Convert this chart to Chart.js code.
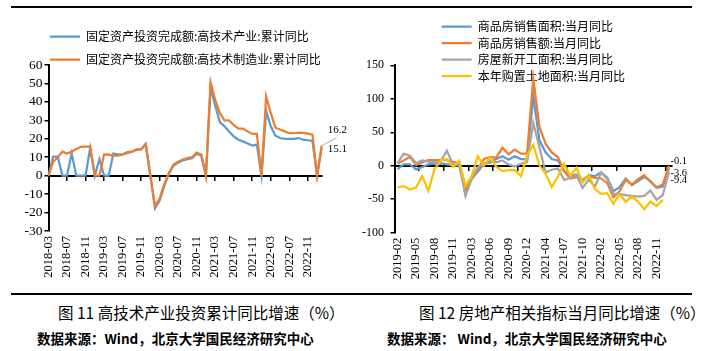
<!DOCTYPE html>
<html lang="zh">
<head>
<meta charset="UTF-8">
<title>高技术产业投资与房地产相关指标</title>
<script src="https://cdn.jsdelivr.net/npm/chart.js"></script>
<style>
  body { margin: 0; width: 708px; height: 351px; background: #fff; position: relative; overflow: hidden;
         font-family: "Noto Sans CJK SC", sans-serif; color: #000; }
  .rule { position: absolute; left: 11px; width: 681px; height: 2px; background: #000; }
  canvas { position: absolute; top: 0; }
  .cap { position: absolute; font-size: 15.5px; line-height: 16px; white-space: nowrap; }
  .src { position: absolute; font-size: 13.5px; line-height: 14px; font-weight: bold; white-space: nowrap; }
</style>
</head>
<body>
<div class="rule" style="top:6px"></div>
<canvas id="hiTechChart" width="354" height="290" style="left:0"></canvas>
<canvas id="estateChart" width="354" height="290" style="left:354px"></canvas>
<div class="rule" style="top:293px"></div>
<div class="cap" style="left:58px; top:304px">图 11 高技术产业投资累计同比增速（%）</div>
<div class="cap" style="left:419px; top:304px">图 12 房地产相关指标当月同比增速（%）</div>
<div class="src" style="left:37px; top:331px">数据来源：Wind，北京大学国民经济研究中心</div>
<div class="src" style="left:387px; top:331px">数据来源： Wind，北京大学国民经济研究中心</div>

<script>
// left chart: cumulative yoy, missing months shown as 0
const months1 = [
  '2018-03','2018-04','2018-05','2018-06','2018-07','2018-08','2018-09','2018-10','2018-11','2018-12',
  '2019-01','2019-02','2019-03','2019-04','2019-05','2019-06','2019-07','2019-08','2019-09','2019-10','2019-11','2019-12',
  '2020-01','2020-02','2020-03','2020-04','2020-05','2020-06','2020-07','2020-08','2020-09','2020-10','2020-11','2020-12',
  '2021-01','2021-02','2021-03','2021-04','2021-05','2021-06','2021-07','2021-08','2021-09','2021-10','2021-11','2021-12',
  '2022-01','2022-02','2022-03','2022-04','2022-05','2022-06','2022-07','2022-08','2022-09','2022-10','2022-11','2022-12',
  '2023-01','2023-02'
];
const hiTechIndustry = [
  0, 10.3, 10.3, 0, 0, 12, 0, 0, 0, 15,
  0, 9, 0, 0, 12, 11.5, 11.5, 12.8, 13, 14, 14.2, 17,
  0, -17.7, -13.5, -5.5, 1, 5.5, 7, 8.3, 9, 9.5, 11.8, 11,
  0, 47.5, 38, 29, 26.8, 24, 21.3, 19.5, 18.6, 17.4, 16.3, 16.8,
  0, 35, 26.8, 21.7, 20.4, 20, 20, 20, 20.4, 19.5, 19.2, 18.9,
  0, 15.1
];
const hiTechMfg = [
  0, 7.5, 10, 13, 12, 13, 14.5, 15.6, 15.7, 15.7,
  0, 0, 11.5, 11.4, 10.8, 10.8, 11.5, 12.2, 13, 14.2, 14.4, 17.3,
  0, -16.5, -12.5, -4.5, 1.5, 6, 7.5, 8.8, 9.5, 10, 12.5, 11.5,
  0, 50.6, 41.2, 34, 30, 30, 27.5, 25.5, 25.5, 24, 22.6, 22.6,
  0, 43, 34, 26, 25, 24, 23, 23, 23.3, 23.2, 22.8, 22.2,
  0, 16.2
];

// right chart: monthly yoy (no January data)
const months2 = [
  '2019-02','2019-03','2019-04','2019-05','2019-06','2019-07','2019-08','2019-09','2019-10','2019-11','2019-12',
  '2020-02','2020-03','2020-04','2020-05','2020-06','2020-07','2020-08','2020-09','2020-10','2020-11','2020-12',
  '2021-02','2021-03','2021-04','2021-05','2021-06','2021-07','2021-08','2021-09','2021-10','2021-11','2021-12',
  '2022-02','2022-03','2022-04','2022-05','2022-06','2022-07','2022-08','2022-09','2022-10','2022-11','2022-12',
  '2023-02'
];
const salesArea = [
  -5, 2, 2, -5.5, -2, 2, 3, 3.5, 2, 1, 0,
  -40, -20, -9, 3, 5, 10, 14, 9, 14, 10, 10,
  104, 38, 20, 10, 8, -8, -15.5, -13, -21.5, -14, -15.5,
  -10, -18, -38, -32, -19, -29, -23, -16.5, -23, -33, -31,
  -3.6
];
const salesValue = [
  3, 8, 13, 1, 5, 8.5, 8.5, 8.5, 8.5, 6, 3.5,
  -36, -19, -6, 10, 13, 12, 27, 17, 24, 18, 18,
  130, 58, 33, 20, 13, -8, -19, -17, -22, -16, -18,
  -19, -26, -47, -38, -21, -28, -20, -14, -24, -32, -28,
  -0.1
];
const newStarts = [
  4, 18, 15, 4, 8, 6, 5, 7, 22.5, 1, 6,
  -45, -20, -2, 3, 8, 5, 8, 2, -1, 3, 5,
  64, 28, -10, -6, -4, -21, -18, -14, -33, -21, -31,
  -10, -20, -42, -42, -44, -45, -46, -45, -37, -51, -44,
  -9.4
];
const landPurchase = [
  -32.5, -30.5, -35.5, -32.5, -15.5, -37.5, -5, 8, 10, -2, 7.5,
  -30, -16, 14, 0, 12.5, -1.5, -8, -6.5, -6.5, -15.5, 15,
  31, 1, -12, -32, -16, 3, -15, -3, -25, -14, -35,
  -42, -41, -57, -42.5, -53.5, -46, -53.5, -65, -53.5, -60, -51,
  null
];

const BLUE = '#5B9BD5', ORANGE = '#ED7D31', GRAY = '#A5A5A5', YELLOW = '#FFC000';
const serif = 'Liberation Serif';

// legend sits over the top of the plot, so it is moved after layout
const placeLegend = {
  id: 'placeLegend',
  afterLayout(chart, args, opts) {
    const lg = chart.legend;
    lg.left = opts.left;
    lg.top = opts.top;
    lg.bottom = opts.top + 100;
  }
};

// value labels at the last point of some series
const endLabels = {
  id: 'endLabels',
  afterDatasetsDraw(chart, args, opts) {
    const ctx = chart.ctx;
    ctx.save();
    ctx.font = opts.size + 'px "' + serif + '"';
    ctx.fillStyle = '#000';
    ctx.textBaseline = 'middle';
    opts.items.forEach(it => {
      const pts = chart.getDatasetMeta(it.ds).data;
      const pt = pts[pts.length - 1];
      if (it.leader) {
        ctx.strokeStyle = '#A6A6A6';
        ctx.lineWidth = 1;
        ctx.beginPath();
        ctx.moveTo(pt.x, pt.y);
        ctx.lineTo(pt.x + it.leader[0], pt.y + it.leader[1]);
        ctx.stroke();
      }
      ctx.fillText(it.text, pt.x + it.dx, pt.y + it.dy);
    });
    ctx.restore();
  }
};

function line(label, data, color, order) {
  return { label, data, borderColor: color, backgroundColor: color, borderWidth: 2.25,
           pointRadius: 0, tension: 0, order };
}

function makeChart(id, cfg) {
  const lastIdx = cfg.labels.length - 1;
  return new Chart(document.getElementById(id), {
    type: 'line',
    data: { labels: cfg.labels, datasets: cfg.datasets },
    plugins: [placeLegend, endLabels],
    options: {
      responsive: false,
      animation: false,
      layout: { padding: cfg.padding },
      scales: {
        x: {
          offset: cfg.offset,
          grid: { display: false, drawTicks: false },
          border: { display: false },
          afterFit: s => { s.height = cfg.xHeight; },
          ticks: {
            autoSkip: false, minRotation: 90, maxRotation: 90, padding: 5, color: '#000',
            font: { family: serif, size: 12.5 },
            callback: (v, i) => (i % cfg.labelStep === 0 ? cfg.labels[i] : '')
          }
        },
        x0: {
          type: 'category',
          position: { y: 0 },
          offset: cfg.offset,
          ticks: { display: false },
          border: { display: true, color: '#000', width: 2 },
          grid: {
            offset: cfg.offset, drawOnChartArea: false, drawTicks: true, tickLength: 4, lineWidth: 1.5,
            color: c => cfg.tickAt(c.index, lastIdx) ? '#000' : 'rgba(0,0,0,0)'
          }
        },
        y: {
          min: cfg.yMin, max: cfg.yMax,
          afterFit: s => { s.width = cfg.yWidth; },
          border: { display: true, color: '#000', width: 2 },
          grid: { drawOnChartArea: false, drawTicks: true, tickLength: 4, color: '#000', lineWidth: 1.5 },
          ticks: { stepSize: cfg.yStep, autoSkip: false, padding: cfg.yPad, color: '#000',
                   font: { family: serif, size: cfg.ySize } }
        }
      },
      plugins: {
        tooltip: { enabled: false },
        legend: {
          position: 'top', align: 'start', maxHeight: 1,
          labels: {
            boxWidth: 30, boxHeight: 0, padding: cfg.legendPad, color: '#000',
            font: { family: 'Noto Sans CJK SC', size: 12 },
            sort: (a, b) => a.datasetIndex - b.datasetIndex
          }
        },
        placeLegend: cfg.legendPos,
        endLabels: { size: cfg.labelSize, items: cfg.endItems }
      }
    }
  });
}

makeChart('hiTechChart', {
  labels: months1,
  datasets: [
    line('固定资产投资完成额:高技术产业:累计同比', hiTechIndustry, BLUE, 1),
    line('固定资产投资完成额:高技术制造业:累计同比', hiTechMfg, ORANGE, 0)
  ],
  padding: { top: 64, right: 32.3, bottom: 0, left: 0 },
  offset: false,
  xHeight: 59,
  labelStep: 4,
  tickAt: (i) => i % 4 === 0,
  yMin: -30, yMax: 60, yStep: 10, yWidth: 48.5, yPad: 2, ySize: 13.5,
  legendPad: 11,
  legendPos: { left: 39, top: 19.7 },
  labelSize: 11,
  endItems: [
    { ds: 1, text: String(hiTechMfg[hiTechMfg.length - 1]), dx: 6, dy: -16, leader: [15, -8] },
    { ds: 0, text: String(hiTechIndustry[hiTechIndustry.length - 1]), dx: 6, dy: 1 }
  ]
});

makeChart('estateChart', {
  labels: months2,
  datasets: [
    line('商品房销售面积:当月同比', salesArea, BLUE, 3),
    line('商品房销售额:当月同比', salesValue, ORANGE, 2),
    line('房屋新开工面积:当月同比', newStarts, GRAY, 1),
    line('本年购置土地面积:当月同比', landPurchase, YELLOW, 0)
  ],
  padding: { top: 64.3, right: 36, bottom: 0, left: 0 },
  offset: true,
  xHeight: 57.3,
  labelStep: 3,
  tickAt: (i, last) => i > 0 && i <= last && i % 4 === 0,
  yMin: -100, yMax: 150, yStep: 50, yWidth: 40.5, yPad: 6.5, ySize: 12,
  legendPad: 4.5,
  legendPos: { left: 83.2, top: 16.2 },
  labelSize: 10.5,
  endItems: [
    { ds: 1, text: String(salesValue[salesValue.length - 1]), dx: 1.5, dy: -5 },
    { ds: 0, text: String(salesArea[salesArea.length - 1]), dx: 1.5, dy: 5 },
    { ds: 2, text: String(newStarts[newStarts.length - 1]), dx: 1.5, dy: 8.5 }
  ]
});
</script>
</body>
</html>
